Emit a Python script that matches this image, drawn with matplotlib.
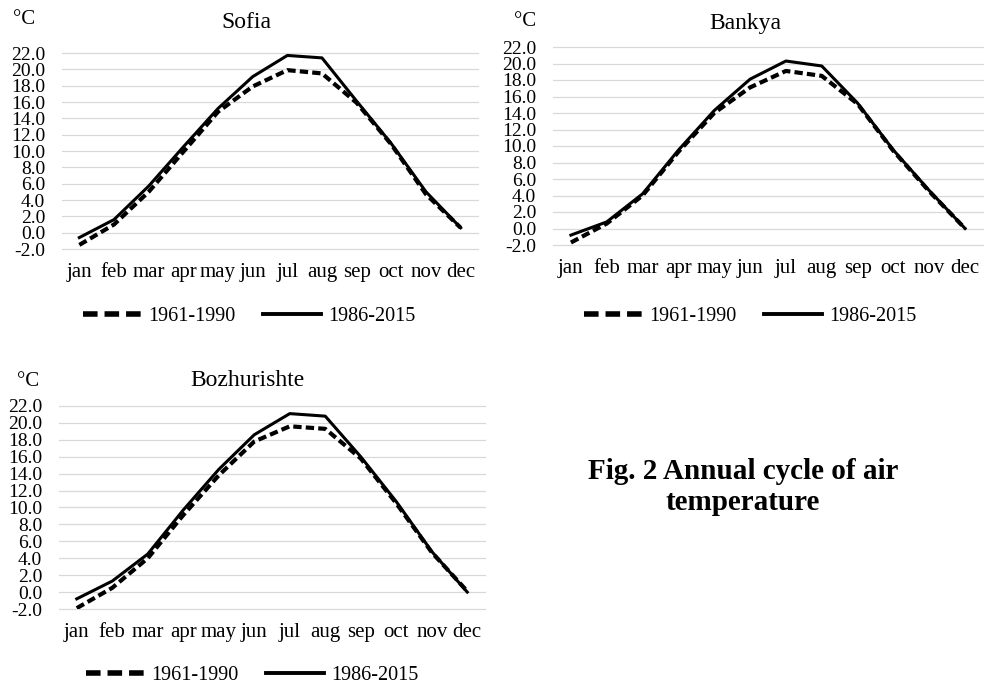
import matplotlib
matplotlib.use('Agg')
import matplotlib.pyplot as plt
from matplotlib.lines import Line2D
from matplotlib.ticker import FormatStrFormatter

plt.rcParams['font.family'] = ['Liberation Serif', 'DejaVu Serif']
plt.rcParams['axes.unicode_minus'] = False
plt.rcParams['lines.scale_dashes'] = False

# Data (mean monthly air temperature, deg C)
months = ['jan', 'feb', 'mar', 'apr', 'may', 'jun', 'jul', 'aug', 'sep', 'oct', 'nov', 'dec']
series_names = ['1961-1990', '1986-2015']

sofia_old = [-1.5, 1.0, 5.0, 9.9, 14.8, 17.9, 19.9, 19.5, 15.9, 10.8, 4.7, 0.6]
sofia_new = [-0.6, 1.6, 5.7, 10.5, 15.2, 19.1, 21.7, 21.4, 16.1, 10.9, 5.0, 0.6]

bankya_old = [-1.7, 0.6, 4.0, 9.3, 14.0, 17.1, 19.1, 18.5, 15.1, 9.4, 4.5, 0.0]
bankya_new = [-0.8, 0.8, 4.2, 9.5, 14.3, 18.1, 20.3, 19.7, 15.2, 9.5, 4.6, 0.0]

bozh_old = [-1.9, 0.5, 4.0, 9.1, 13.8, 17.8, 19.6, 19.3, 15.8, 10.5, 4.7, 0.1]
bozh_new = [-0.8, 1.3, 4.5, 9.7, 14.5, 18.6, 21.1, 20.8, 16.0, 10.7, 4.8, 0.0]

yticks = [-2, 0, 2, 4, 6, 8, 10, 12, 14, 16, 18, 20, 22]

W, H = 988, 687
fig = plt.figure(figsize=(W / 100, H / 100), dpi=100)


def px_axes(left, right, top, bottom):
    return fig.add_axes([left / W, 1 - bottom / H, (right - left) / W, (bottom - top) / H])


def panel(box, title, title_xy, unit_xy, legend_xy, old, new):
    ax = px_axes(*box)
    x = list(range(len(months)))
    ax.plot(x, old, color='black', lw=3.0, dashes=(6, 3), solid_capstyle='butt',
            dash_capstyle='butt', zorder=3)
    ax.plot(x, new, color='black', lw=2.2, zorder=3)
    ax.set_xlim(-0.5, len(months) - 0.5)
    ax.set_ylim(-2, 22)
    ax.set_yticks(yticks)
    ax.yaxis.set_major_formatter(FormatStrFormatter('%.1f'))
    ax.set_xticks(x)
    ax.set_xticklabels(months)
    ax.grid(axis='y', color='#d9d9d9', lw=0.9)
    for gl in ax.get_ygridlines():
        gl.set_clip_on(False)
    ax.set_axisbelow(True)
    for s in ax.spines.values():
        s.set_visible(False)
    ax.tick_params(axis='y', length=0, pad=12, labelsize=14)
    ax.tick_params(axis='x', length=0, pad=10, labelsize=15)

    fig.text(title_xy[0] / W, 1 - title_xy[1] / H, title, fontsize=17,
             ha='center', va='center')
    fig.text(unit_xy[0] / W, 1 - unit_xy[1] / H, '°C', fontsize=15,
             ha='center', va='center')

    handles = [Line2D([], [], color='black', lw=4.0, dashes=(10.5, 5), dash_capstyle='butt'),
               Line2D([], [], color='black', lw=2.8)]
    fig.legend(handles, series_names, loc='center',
               bbox_to_anchor=(legend_xy[0] / W, 1 - legend_xy[1] / H),
               ncol=2, frameon=False, fontsize=14.5, handlelength=2.9,
               handletextpad=0.35, columnspacing=1.35)
    return ax


panel((62, 478, 53, 249), 'Sofia', (246, 23), (24, 20), (249, 316), sofia_old, sofia_new)
panel((553, 983, 47, 245), 'Bankya', (745, 23), (525, 22), (750, 316), bankya_old, bankya_new)
panel((59, 485, 406, 609), 'Bozhurishte', (247, 380), (28, 382), (252, 675), bozh_old, bozh_new)

fig.text(743 / W, 1 - 487 / H, 'Fig. 2 Annual cycle of air\ntemperature', fontsize=21,
         fontweight='bold', ha='center', va='center', linespacing=1.15)

fig.savefig('out.png', dpi=100)
